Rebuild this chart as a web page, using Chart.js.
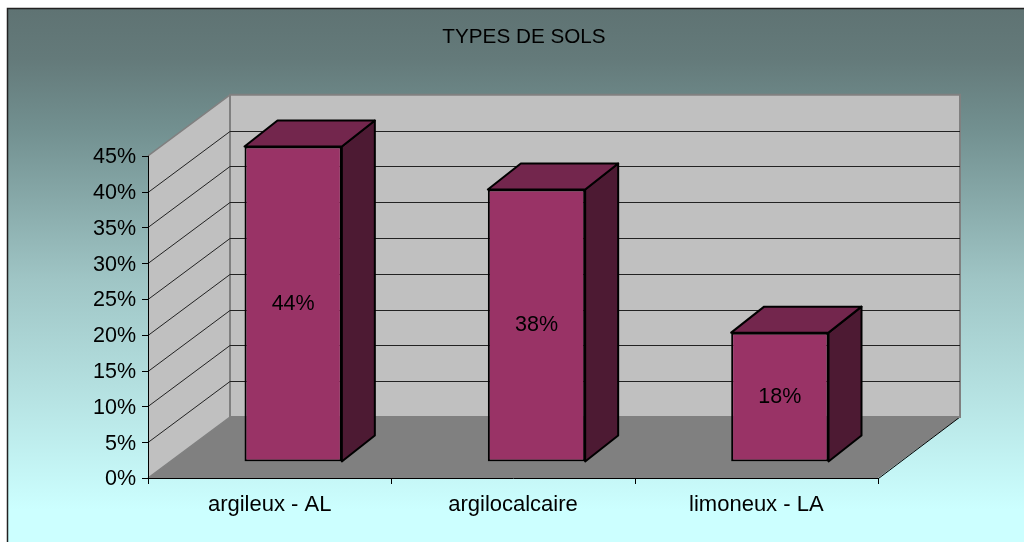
<!DOCTYPE html>
<html><head><meta charset="utf-8">
<style>html,body{margin:0;padding:0;background:#fff}canvas{display:block}</style>
<script src="https://cdn.jsdelivr.net/npm/chart.js@4"></script></head>
<body><div style="width:1024px;height:542px"><canvas id="c" width="1024" height="542"></canvas></div>
<script>
const categories = ['argileux - AL','argilocalcaire','limoneux - LA'];
const values = [44,38,18];
const valueLabels = ['44%','38%','18%'];
const titleText = 'TYPES DE SOLS';
const FONT = '"Liberation Sans", Arial, sans-serif';
const WALL = {dx:82, dy:-61};     // depth of the 3D box
const BAR  = {dx:23.5, dy:-16.5, depthX:33, depthY:-26}; // bar placement in depth

const threeD = {
  id:'threeD',
  afterLayout(chart){
    chart.titleBlock.left+=73;chart.titleBlock.right+=73;
  },
  beforeDraw(chart){
    const {ctx,width,height}=chart;
    ctx.save();
    ctx.fillStyle='#fff';ctx.fillRect(0,0,width,height);
    const g=ctx.createLinearGradient(0,9,0,510);
    g.addColorStop(0,'#5f7373');
    g.addColorStop(0.1,'#647a7a');
    g.addColorStop(0.24,'#729090');
    g.addColorStop(0.54,'#9fc5c5');
    g.addColorStop(1,'#ccffff');
    ctx.fillStyle=g;ctx.fillRect(8,9,width-8,height-9);
    ctx.strokeStyle='#222';ctx.lineWidth=1.5;
    ctx.beginPath();ctx.moveTo(7.5,height);ctx.lineTo(7.5,8.5);ctx.lineTo(width,8.5);ctx.stroke();
    ctx.restore();
  },
  beforeDatasetsDraw(chart){
    const {ctx,scales:{x,y},chartArea:a}=chart;
    const l=a.left,r=a.right,t=a.top,b=a.bottom,{dx,dy}=WALL;
    ctx.save();
    // floor
    ctx.fillStyle='#808080';
    ctx.beginPath();ctx.moveTo(l,b);ctx.lineTo(l+dx,b+dy);ctx.lineTo(r+dx,b+dy);ctx.lineTo(r,b);ctx.closePath();ctx.fill();
    ctx.strokeStyle='#000';ctx.lineWidth=1;
    ctx.beginPath();ctx.moveTo(r+.5,b+.5);ctx.lineTo(r+dx,b+dy);ctx.stroke();
    // back wall
    ctx.fillStyle='#c0c0c0';ctx.strokeStyle='#808080';ctx.lineWidth=2;
    ctx.beginPath();ctx.rect(l+dx,t+dy,r-l,b-t);ctx.fill();ctx.stroke();
    // side wall
    ctx.beginPath();ctx.moveTo(l,t);ctx.lineTo(l+dx,t+dy);ctx.lineTo(l+dx,b+dy);ctx.lineTo(l,b);ctx.closePath();ctx.fill();
    ctx.lineWidth=1.5;
    ctx.beginPath();ctx.moveTo(l,t);ctx.lineTo(l+dx,t+dy);ctx.stroke();
    ctx.beginPath();ctx.moveTo(l,b);ctx.lineTo(l+dx,b+dy);ctx.stroke();
    // re-stroke the wall edge
    ctx.lineWidth=2;ctx.beginPath();ctx.moveTo(l+dx,t+dy);ctx.lineTo(l+dx,b+dy);ctx.stroke();
    // grid lines
    ctx.strokeStyle='#222';ctx.lineWidth=1;
    y.ticks.forEach(tk=>{
      if(tk.value===0||tk.value===45)return;
      const py=Math.round(y.getPixelForValue(tk.value))+.5;
      ctx.beginPath();ctx.moveTo(l,py);ctx.lineTo(l+dx,py+dy);ctx.lineTo(r+dx,py+dy);ctx.stroke();
    });
    // front axis lines
    ctx.strokeStyle='#000';ctx.lineWidth=1;
    ctx.beginPath();ctx.moveTo(l+.5,t);ctx.lineTo(l+.5,b+.5);ctx.lineTo(r+.5,b+.5);ctx.stroke();
    ctx.restore();
    // bars: sides + top, then shift for the front faces
    chart.getDatasetMeta(0).data.forEach(el=>{
      const L=el.x-el.width/2+BAR.dx,R=el.x+el.width/2+BAR.dx,T=el.y+BAR.dy,B=el.base+BAR.dy;
      const ex=BAR.depthX,ey=BAR.depthY;
      ctx.save();ctx.strokeStyle='#000';ctx.lineWidth=2;ctx.lineJoin='round';
      ctx.fillStyle='#4d1a33';
      ctx.beginPath();ctx.moveTo(R,T);ctx.lineTo(R+ex,T+ey);ctx.lineTo(R+ex,B+ey);ctx.lineTo(R,B);ctx.closePath();ctx.fill();ctx.stroke();
      ctx.fillStyle='#73264d';
      ctx.beginPath();ctx.moveTo(L,T);ctx.lineTo(L+ex,T+ey);ctx.lineTo(R+ex,T+ey);ctx.lineTo(R,T);ctx.closePath();ctx.fill();ctx.stroke();
      ctx.restore();
    });
    ctx.save();ctx.translate(BAR.dx,BAR.dy);
  },
  afterDatasetsDraw(chart){
    const {ctx}=chart;
    ctx.restore();
    ctx.save();
    ctx.fillStyle='#000';ctx.font='21.5px '+FONT;ctx.textAlign='center';ctx.textBaseline='middle';
    chart.getDatasetMeta(0).data.forEach((el,i)=>{
      ctx.fillText(valueLabels[i],el.x+BAR.dx,(el.y+el.base)/2+BAR.dy);
    });
    ctx.restore();
  }
};

new Chart(document.getElementById('c'),{
  type:'bar',
  data:{labels:categories,datasets:[{data:values,backgroundColor:'#993366',borderColor:'#000',borderWidth:2,borderSkipped:false,
    barPercentage:0.8,categoryPercentage:0.5}]},
  options:{
    responsive:false,animation:false,
    layout:{padding:{left:24,right:146,top:0,bottom:0}},
    plugins:{legend:{display:false},tooltip:{enabled:false},
      title:{display:true,text:titleText,color:'#000',font:{family:FONT,size:20.7,weight:'normal'},padding:{top:25,bottom:106}}},
    scales:{
      x:{grid:{display:false},border:{display:false},
        ticks:{color:'#000',font:{family:FONT,size:22},padding:6,maxRotation:0},
        afterFit(s){s.height=64;}},
      y:{min:0,max:45,grid:{display:false},border:{display:false},
        ticks:{stepSize:5,color:'#000',font:{family:FONT,size:21.5},padding:4,labelOffset:1.5,callback:v=>v+'%'},
        afterFit(s){s.width=124;}}
    }
  },
  plugins:[threeD,{id:'ticks',afterDraw(chart){
    const {ctx,scales:{x,y},chartArea:a}=chart;
    ctx.save();ctx.strokeStyle='#000';ctx.lineWidth=1;
    y.ticks.forEach(t=>{const p=Math.round(y.getPixelForValue(t.value))+.5;ctx.beginPath();ctx.moveTo(a.left-6,p);ctx.lineTo(a.left,p);ctx.stroke();});
    for(let i=0;i<=categories.length;i++){const p=Math.round(a.left+(a.right-a.left)*i/categories.length)+.5;ctx.beginPath();ctx.moveTo(p,a.bottom);ctx.lineTo(p,a.bottom+6);ctx.stroke();}
    ctx.restore();
  }}]
});
</script></body></html>
